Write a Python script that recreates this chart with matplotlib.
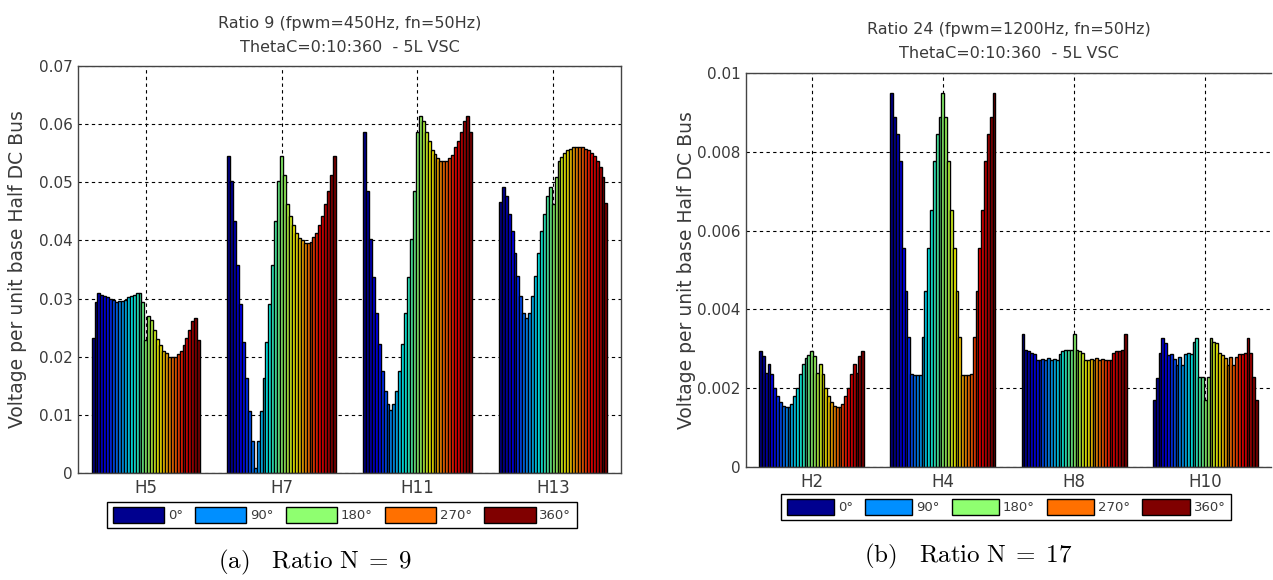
import numpy as np
import matplotlib.pyplot as plt
from matplotlib.patches import Patch

plt.rcParams['font.family'] = ['DejaVu Sans']
plt.rcParams['mathtext.fontset'] = 'cm'

# ThetaC = 0:10:360 (one bar per angle inside every harmonic group)
theta = np.arange(0, 361, 10)
legend_angles = [0, 90, 180, 270, 360]

# (a) Ratio 9
harm_a = ['H5', 'H7', 'H11', 'H13']
h5 = [0.0232, 0.0294, 0.0309, 0.0306, 0.0305, 0.0302, 0.0300, 0.0297, 0.0294, 0.0296,
      0.0296, 0.0297, 0.0302, 0.0305, 0.0307, 0.0309, 0.0309, 0.0294, 0.0229, 0.0270,
      0.0264, 0.0246, 0.0231, 0.0220, 0.0210, 0.0206, 0.0200, 0.0200, 0.0200, 0.0204,
      0.0210, 0.0220, 0.0232, 0.0246, 0.0262, 0.0267, 0.0229]
h7 = [0.0545, 0.0502, 0.0434, 0.0358, 0.0291, 0.0226, 0.0163, 0.0107, 0.0055, 0.0009,
      0.0055, 0.0107, 0.0163, 0.0226, 0.0290, 0.0358, 0.0434, 0.0502, 0.0545, 0.0512,
      0.0462, 0.0442, 0.0427, 0.0413, 0.0405, 0.0400, 0.0396, 0.0395, 0.0398, 0.0406,
      0.0413, 0.0427, 0.0442, 0.0462, 0.0485, 0.0512, 0.0545]
h11 = [0.0587, 0.0485, 0.0403, 0.0337, 0.0275, 0.0222, 0.0176, 0.0141, 0.0119, 0.0109,
       0.0119, 0.0141, 0.0176, 0.0222, 0.0275, 0.0337, 0.0403, 0.0485, 0.0587, 0.0614,
       0.0605, 0.0587, 0.0571, 0.0556, 0.0549, 0.0542, 0.0537, 0.0536, 0.0537, 0.0542,
       0.0547, 0.0560, 0.0571, 0.0587, 0.0605, 0.0614, 0.0587]
h13 = [0.0466, 0.0492, 0.0476, 0.0446, 0.0416, 0.0378, 0.0339, 0.0305, 0.0276, 0.0267,
       0.0276, 0.0305, 0.0339, 0.0378, 0.0416, 0.0446, 0.0476, 0.0492, 0.0463, 0.0509,
       0.0536, 0.0543, 0.0550, 0.0555, 0.0558, 0.0560, 0.0561, 0.0561, 0.0560, 0.0558,
       0.0556, 0.0551, 0.0545, 0.0537, 0.0526, 0.0509, 0.0465]

# (b) Ratio 17
harm_b = ['H2', 'H4', 'H8', 'H10']
h2 = [0.00294, 0.00281, 0.00239, 0.00262, 0.00236, 0.00200, 0.00181, 0.00164, 0.00156, 0.00152,
      0.00152, 0.00160, 0.00181, 0.00200, 0.00236, 0.00262, 0.00277, 0.00283, 0.00294, 0.00281,
      0.00239, 0.00262, 0.00236, 0.00200, 0.00181, 0.00164, 0.00156, 0.00152, 0.00152, 0.00160,
      0.00181, 0.00200, 0.00236, 0.00262, 0.00239, 0.00281, 0.00294]
h4 = [0.00948, 0.00888, 0.00846, 0.00776, 0.00556, 0.00446, 0.00330, 0.00237, 0.00233, 0.00233,
      0.00233, 0.00330, 0.00446, 0.00556, 0.00653, 0.00776, 0.00846, 0.00888, 0.00948, 0.00888,
      0.00776, 0.00653, 0.00556, 0.00446, 0.00330, 0.00233, 0.00233, 0.00233, 0.00237, 0.00330,
      0.00446, 0.00556, 0.00653, 0.00776, 0.00846, 0.00888, 0.00948]
h8 = [0.00338, 0.00298, 0.00294, 0.00290, 0.00288, 0.00271, 0.00271, 0.00273, 0.00271, 0.00277,
      0.00271, 0.00274, 0.00271, 0.00288, 0.00294, 0.00298, 0.00298, 0.00298, 0.00338, 0.00298,
      0.00294, 0.00290, 0.00271, 0.00271, 0.00273, 0.00271, 0.00277, 0.00271, 0.00273, 0.00271,
      0.00271, 0.00271, 0.00290, 0.00294, 0.00294, 0.00298, 0.00338]
h10 = [0.00170, 0.00227, 0.00289, 0.00327, 0.00314, 0.00285, 0.00287, 0.00274, 0.00259, 0.00280,
       0.00258, 0.00286, 0.00289, 0.00286, 0.00318, 0.00327, 0.00229, 0.00229, 0.00170, 0.00229,
       0.00327, 0.00318, 0.00314, 0.00289, 0.00285, 0.00276, 0.00259, 0.00280, 0.00259, 0.00280,
       0.00286, 0.00286, 0.00289, 0.00327, 0.00289, 0.00229, 0.00170]

TXT = '#3a3a3a'


def matlab_jet(m=64):
    # same table as MATLAB's jet(m)
    n = int(np.ceil(m / 4))
    u = np.concatenate([np.arange(1, n + 1) / n, np.ones(n - 1), np.arange(n, 0, -1) / n])
    g = int(np.ceil(n / 2)) - int(m % 4 == 1) + np.arange(1, len(u) + 1)
    r = g + n
    b = g - n
    gi, ri, bi = g[g <= m], r[r <= m], b[b >= 1]
    J = np.zeros((m, 3))
    J[ri - 1, 0] = u[:len(ri)]
    J[gi - 1, 1] = u[:len(gi)]
    J[bi - 1, 2] = u[len(u) - len(bi):]
    return J


cmap = matlab_jet(64)
colors = [cmap[min(int(k / (len(theta) - 1) * 64), 63)] for k in range(len(theta))]


def grouped_bars(ax, groups, names, yticks):
    n = len(theta)
    w = 0.8 / n
    x = np.arange(1, len(groups) + 1)
    for k in range(n):
        vals = [g[k] for g in groups]
        ax.bar(x - 0.4 + w * (k + 0.5), vals, width=w, color=colors[k],
               edgecolor='k', linewidth=1.0)
    ax.set_xlim(0.5, len(groups) + 0.5)
    ax.set_ylim(yticks[0], yticks[-1])
    ax.set_xticks(x)
    ax.set_xticklabels(names)
    ax.set_yticks(yticks)
    ax.set_yticklabels([f"{v:g}" for v in yticks])
    ax.set_axisbelow(True)
    ax.grid(True, color='k', linestyle=(0, (3, 3)), linewidth=0.8)
    ax.tick_params(axis='both', length=0, colors=TXT)
    ax.tick_params(axis='x', pad=4, labelsize=12)
    ax.tick_params(axis='y', pad=4, labelsize=11)
    for s in ax.spines.values():
        s.set_color('#444444')
        s.set_linewidth(1.0)
    ax.set_ylabel('Voltage per unit base Half DC Bus', fontsize=13.5, color=TXT)


def add_legend(fig, cx, cy, hl):
    handles = [Patch(facecolor=colors[list(theta).index(a)], edgecolor='k') for a in legend_angles]
    labels = [f"{a}°" for a in legend_angles]
    leg = fig.legend(handles, labels, loc='center', bbox_to_anchor=(cx, cy), ncol=5,
                     fontsize=9.5, handlelength=hl, handleheight=1.4, handletextpad=0.3,
                     columnspacing=0.9, fancybox=False, edgecolor='k', framealpha=1,
                     borderpad=0.4, borderaxespad=0)
    for t in leg.get_texts():
        t.set_color(TXT)


fig = plt.figure(figsize=(12.73, 5.8), dpi=100)
W, H = 1273, 580

ax1 = fig.add_axes([78 / W, 1 - 473 / H, 543 / W, 407 / H])
grouped_bars(ax1, [h5, h7, h11, h13], harm_a, np.arange(0, 0.0701, 0.01))
ax1.yaxis.set_label_coords(-0.094, 0.5)
ax1.set_title('Ratio 9 (fpwm=450Hz, fn=50Hz)\nThetaC=0:10:360  - 5L VSC',
              fontsize=11.5, color=TXT, pad=10, linespacing=1.75)

ax2 = fig.add_axes([746 / W, 1 - 467 / H, 525 / W, 394 / H])
grouped_bars(ax2, [h2, h4, h8, h10], harm_b, np.arange(0, 0.01001, 0.002))
ax2.yaxis.set_label_coords(-0.095, 0.5)
ax2.spines['right'].set_visible(False)
ax2.set_title('Ratio 24 (fpwm=1200Hz, fn=50Hz)\nThetaC=0:10:360  - 5L VSC',
              fontsize=11.5, color=TXT, pad=11, linespacing=1.75)

add_legend(fig, 342 / W, 1 - 515 / H, 3.9)
add_legend(fig, 1006 / W, 1 - 507 / H, 3.6)

fig.text(315 / W, 1 - 562 / H, r'$\mathrm{(a)}\quad\mathrm{Ratio\ N}\;=\;9$', fontsize=18,
         ha='center', va='center')
fig.text(968 / W, 1 - 556 / H, r'$\mathrm{(b)}\quad\mathrm{Ratio\ N}\;=\;17$', fontsize=18,
         ha='center', va='center')

fig.savefig('out.png', dpi=100)
